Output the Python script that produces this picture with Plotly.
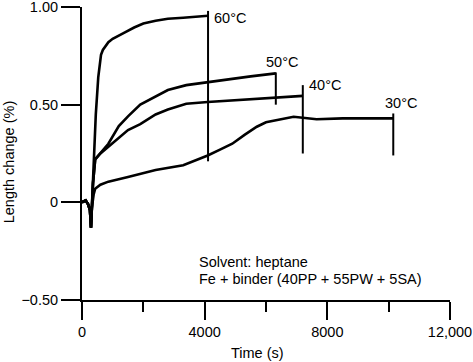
import plotly.graph_objects as go

# ---- data ----
t60 = [0, 120, 200, 260, 293, 320, 340, 380, 450, 530, 580, 620, 680, 760, 860, 1000, 1200, 1400, 1700, 2000, 2400, 2800, 3300, 3700, 4110]
v60 = [0, 0.01, -0.01, -0.04, -0.13, -0.03, 0.02, 0.20, 0.45, 0.64, 0.72, 0.755, 0.78, 0.80, 0.82, 0.837, 0.855, 0.87, 0.895, 0.915, 0.93, 0.94, 0.945, 0.95, 0.955]

t50 = [0, 120, 200, 260, 293, 320, 360, 430, 600, 860, 1200, 1500, 1900, 2400, 2800, 3400, 4100, 4800, 5500, 6320]
v50 = [0, 0.01, -0.01, -0.04, -0.13, -0.03, 0.10, 0.22, 0.25, 0.30, 0.39, 0.44, 0.50, 0.54, 0.575, 0.60, 0.616, 0.63, 0.645, 0.66]

t40 = [0, 120, 200, 260, 293, 320, 360, 430, 600, 860, 1200, 1500, 1900, 2400, 2800, 3400, 4100, 5000, 5500, 6300, 7200]
v40 = [0, 0.01, -0.01, -0.04, -0.13, -0.03, 0.10, 0.22, 0.25, 0.285, 0.33, 0.37, 0.40, 0.45, 0.475, 0.505, 0.514, 0.522, 0.527, 0.535, 0.545]

t30 = [0, 120, 200, 260, 293, 320, 380, 430, 600, 860, 1500, 2200, 2400, 3300, 4100, 4500, 4900, 5300, 5700, 6000, 6350, 6900, 7650, 8500, 9300, 10150]
v30 = [0, 0.01, -0.01, -0.04, -0.13, -0.03, 0.04, 0.07, 0.09, 0.106, 0.13, 0.157, 0.166, 0.19, 0.24, 0.27, 0.30, 0.345, 0.387, 0.41, 0.42, 0.438, 0.425, 0.43, 0.43, 0.43]

# end-of-run marker lines: time, lower, upper
marker_t = [4110, 6320, 7200, 10150]
marker_lo = [0.21, 0.50, 0.25, 0.24]
marker_hi = [0.98, 0.665, 0.60, 0.455]

labels = ["60°C", "50°C", "40°C", "30°C"]
label_t = [4250, 5950, 7350, 9800]
label_v = [0.945, 0.716, 0.60, 0.508]

xtick_vals = [0, 4000, 8000, 12000]
xtick_text = ["0", "4000", "8000", "12,000"]
ytick_vals = [-0.5, 0, 0.5, 1.0]
ytick_text = ["\u22120.50", "0", "0.50", "1.00"]

note_lines = ["Solvent: heptane", "Fe + binder (40PP + 55PW + 5SA)"]
note_t = 3760
note_v = [-0.304, -0.395]

FONT = "Liberation Sans, Arial, Helvetica, sans-serif"
FS = 14.5

fig = go.Figure()
for t, v in [(t30, v30), (t40, v40), (t50, v50), (t60, v60)]:
    fig.add_trace(go.Scatter(x=t, y=v, mode="lines",
                             line=dict(color="black", width=2.6),
                             hoverinfo="skip", showlegend=False))
for mt, lo, hi in zip(marker_t, marker_lo, marker_hi):
    fig.add_trace(go.Scatter(x=[mt, mt], y=[lo, hi], mode="lines",
                             line=dict(color="black", width=2),
                             hoverinfo="skip", showlegend=False))

annotations = []
for lab, lt, lv in zip(labels, label_t, label_v):
    annotations.append(dict(x=lt, y=lv, xref="x", yref="y", text=lab, showarrow=False,
                            xanchor="left", yanchor="middle",
                            font=dict(family=FONT, size=FS, color="black")))
for line, nv in zip(note_lines, note_v):
    annotations.append(dict(x=note_t, y=nv, xref="x", yref="y", text=line, showarrow=False,
                            xanchor="left", yanchor="middle",
                            font=dict(family=FONT, size=FS, color="black")))
annotations.append(dict(x=0.478, y=-0.18, xref="paper", yref="paper", text="Time (s)",
                        showarrow=False, xanchor="center", yanchor="middle",
                        font=dict(family=FONT, size=FS, color="black")))
annotations.append(dict(x=-0.196, y=0.473, xref="paper", yref="paper", text="Length change (%)",
                        showarrow=False, xanchor="center", yanchor="middle", textangle=-90,
                        font=dict(family=FONT, size=FS, color="black")))

fig.update_layout(
    width=473, height=362,
    margin=dict(l=82, r=23, t=7, b=62),
    paper_bgcolor="white", plot_bgcolor="white",
    font=dict(family=FONT, size=FS, color="black"),
    annotations=annotations,
    xaxis=dict(range=[0, 12000], showgrid=False, zeroline=False, automargin=False,
               showline=True, linecolor="black", linewidth=2,
               tickmode="array", tickvals=xtick_vals, ticktext=xtick_text,
               ticks="outside", ticklen=18, tickwidth=2, tickcolor="black",
               ticklabeloverflow="allow",
               minor=dict(dtick=2000, tick0=0, ticks="outside", ticklen=10, tickwidth=2, tickcolor="black"),
               tickfont=dict(family=FONT, size=FS, color="black")),
    yaxis=dict(range=[-0.5, 1.0], showgrid=False, zeroline=False, automargin=False,
               showline=True, linecolor="black", linewidth=2,
               tickmode="array", tickvals=ytick_vals, ticktext=ytick_text,
               ticks="outside", ticklen=19, tickwidth=2, tickcolor="black",
               ticklabeloverflow="allow",
               tickfont=dict(family=FONT, size=FS, color="black")),
)

fig.write_html("out.html", config={"displayModeBar": False},
               post_script="document.body.style.margin='0';document.body.style.overflow='hidden';")
